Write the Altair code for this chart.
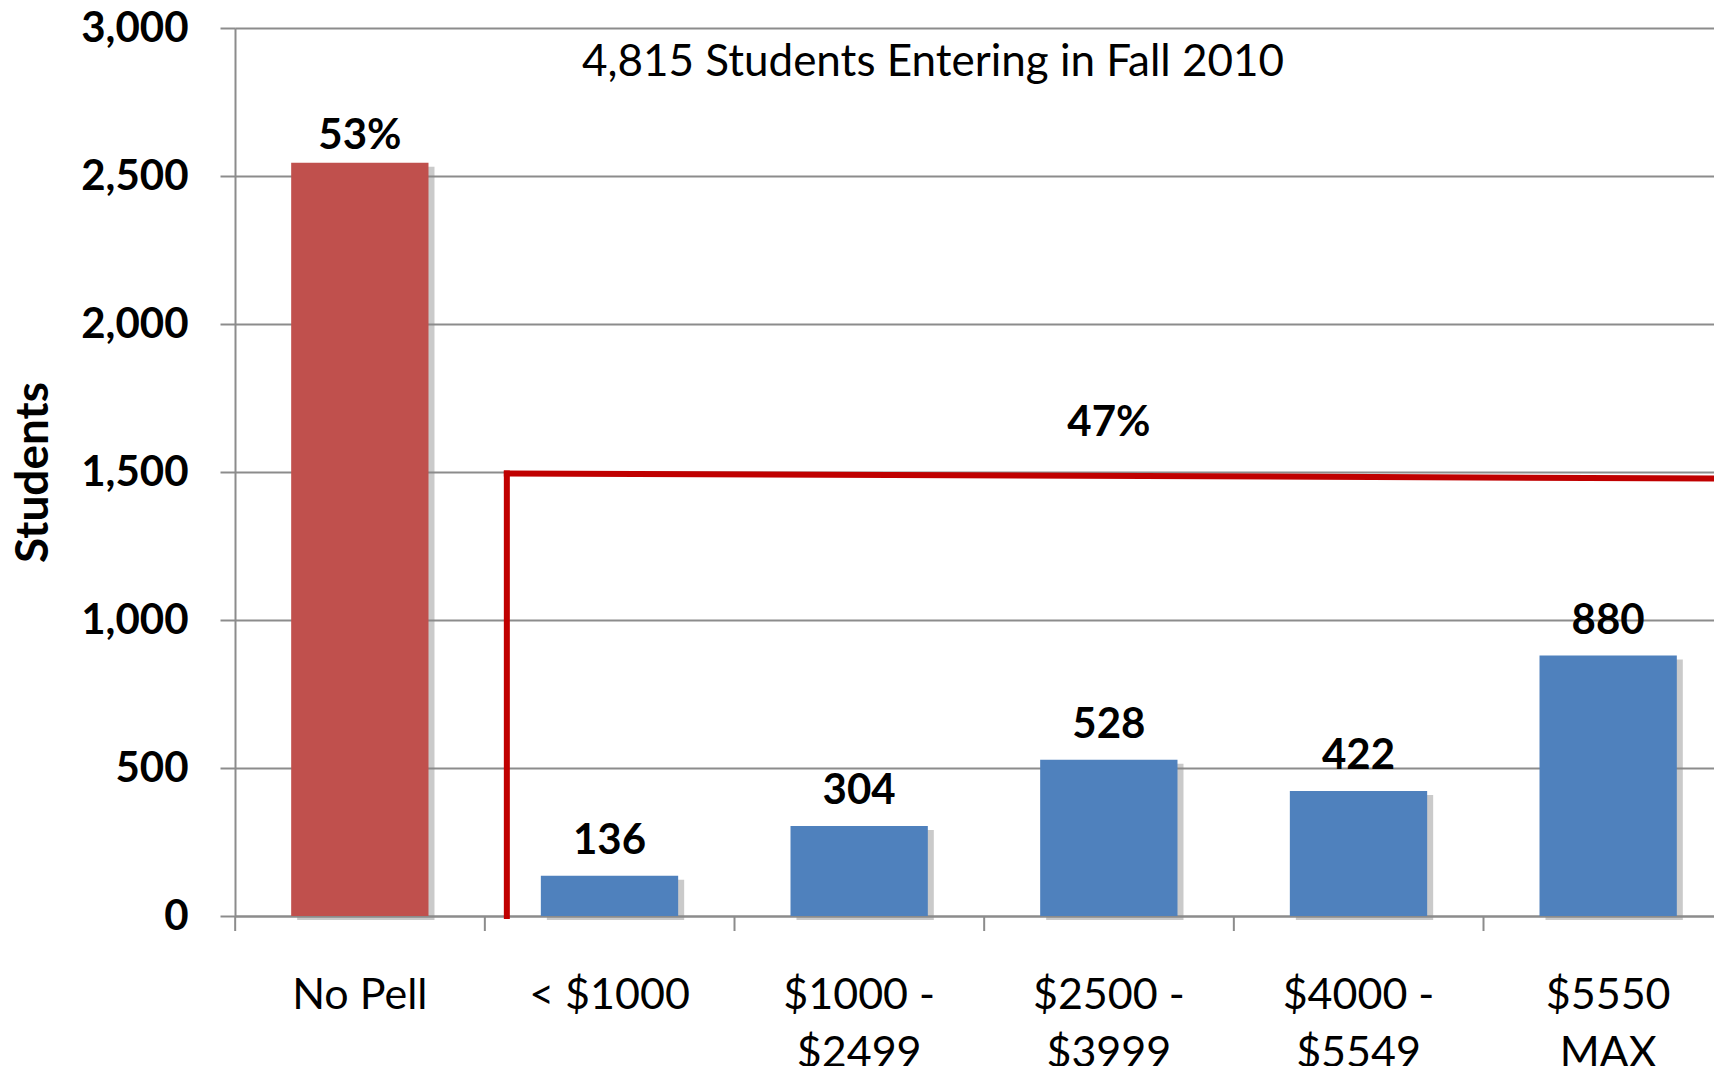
import altair as alt
import pandas as pd

categories = ["No Pell", "< $1000", "$1000 -\n$2499", "$2500 -\n$3999", "$4000 -\n$5549", "$5550\nMAX"]
students = [2545, 136, 304, 528, 422, 880]
bar_labels = ["53%", "136", "304", "528", "422", "880"]
groups = ["No Pell", "Pell", "Pell", "Pell", "Pell", "Pell"]
y_ticks = [0, 500, 1000, 1500, 2000, 2500, 3000]

bracket_start = ["< $1000"]
bracket_end = ["$5550\nMAX"]
bracket_bottom = [0]
bracket_left = [1495]
bracket_right = [1478]
pell_share_cat = ["$2500 -\n$3999"]
pell_share_y = [1620]
pell_share_text = ["47%"]

title_text = ["4,815 Students Entering in Fall 2010"]

FONT = "Lato"
W = 1479          # visible plot width (page ends here)
RANGE_W = 1498    # full band range (last band runs past the page edge)
H = 888
GRAY = "#8c8c8c"

df = pd.DataFrame({"cat": categories, "students": students, "label": bar_labels, "group": groups})
br = pd.DataFrame({"cat": bracket_start, "cat2": bracket_end, "y0": bracket_bottom,
                   "yl": bracket_left, "yr": bracket_right})
sh = pd.DataFrame({"cat": pell_share_cat, "y": pell_share_y, "t": pell_share_text})
tt = pd.DataFrame({"t": title_text})

xscale = alt.Scale(domain=categories, range=[0, RANGE_W], paddingInner=0.45, paddingOuter=0.225)
yscale = alt.Scale(domain=[0, 3000], nice=False)

x_axis = alt.Axis(title=None, labelExpr="split(datum.label, '\\n')", labelFont=FONT,
                  labelFontSize=43, labelFontWeight="normal", labelColor="black",
                  labelLineHeight=58, labelPadding=58, labelAngle=0, ticks=False,
                  domainColor=GRAY, domainWidth=2, grid=False, labelBaseline="top")
y_axis = alt.Axis(title="Students", values=y_ticks, format=",d", labelFont=FONT,
                  labelFontSize=42, labelFontWeight="bold", labelColor="black",
                  labelPadding=32, tickSize=15, tickColor=GRAY, tickWidth=2,
                  domainColor=GRAY, domainWidth=2, gridColor=GRAY, gridWidth=2,
                  titleFont=FONT, titleFontSize=46, titleFontWeight="bold", titleColor="black",
                  titleAngle=-90, titleX=-202, titleY=H / 2, titleBaseline="middle",
                  titleAlign="center")

base = alt.Chart(df)

shadow = base.mark_bar(color="#8a8a8a", opacity=0.45, xOffset=6, yOffset=4).encode(
    x=alt.X("cat:N", scale=xscale, axis=x_axis),
    y=alt.Y("students:Q", scale=yscale, axis=y_axis),
)

bars = base.mark_bar().encode(
    x=alt.X("cat:N", scale=xscale, axis=x_axis),
    y=alt.Y("students:Q", scale=yscale, axis=y_axis),
    color=alt.Color("group:N", scale=alt.Scale(domain=["No Pell", "Pell"], range=["#C0504D", "#4F81BD"]), legend=None),
)

# x-axis ticks midway between bars
xticks = base.mark_rule(color=GRAY, strokeWidth=2, xOffset=-56).encode(
    x=alt.X("cat:N", scale=xscale, bandPosition=0),
    y=alt.value(H),
    y2=alt.value(H + 15),
)

texts_pell = base.transform_filter(alt.datum.group == "Pell").mark_text(
    font=FONT, fontSize=42, fontWeight="bold", color="black",
    baseline="alphabetic", dy=-22).encode(
    x=alt.X("cat:N", scale=xscale),
    y=alt.Y("students:Q", scale=yscale),
    text="label:N",
)

texts_nopell = base.transform_filter(alt.datum.group == "No Pell").mark_text(
    font=FONT, fontSize=42, fontWeight="bold", color="black",
    baseline="alphabetic", dy=-14).encode(
    x=alt.X("cat:N", scale=xscale),
    y=alt.Y("students:Q", scale=yscale),
    text="label:N",
)

vline = alt.Chart(br).mark_rule(color="#c00000", strokeWidth=6, strokeCap="square", xOffset=-34).encode(
    x=alt.X("cat:N", scale=xscale, bandPosition=0),
    y=alt.Y("y0:Q", scale=yscale),
    y2="yl:Q",
)

hline = alt.Chart(br).mark_rule(color="#c00000", strokeWidth=6, strokeCap="square",
                                xOffset=-34, x2Offset=60).encode(
    x=alt.X("cat:N", scale=xscale, bandPosition=0),
    x2=alt.X2("cat2:N", bandPosition=1),
    y=alt.Y("yl:Q", scale=yscale),
    y2="yr:Q",
)

share = alt.Chart(sh).mark_text(font=FONT, fontSize=42, fontWeight="bold", color="black",
                                baseline="alphabetic").encode(
    x=alt.X("cat:N", scale=xscale),
    y=alt.Y("y:Q", scale=yscale),
    text="t:N",
)

title = alt.Chart(tt).mark_text(font=FONT, fontSize=44, fontWeight="normal", color="black",
                                baseline="middle", align="center").encode(
    x=alt.value(698),
    y=alt.value(35),
    text="t:N",
)

chart = alt.layer(shadow, bars, xticks, texts_pell, texts_nopell, vline, hline, share, title).properties(
    width=W, height=H,
    autosize=alt.AutoSizeParams(type="none"),
    padding={"left": 227, "top": 20, "right": 0, "bottom": 150},
).configure_view(stroke=None).configure(background="white")

chart.save("out.html", embed_options={"renderer": "svg", "actions": False})
